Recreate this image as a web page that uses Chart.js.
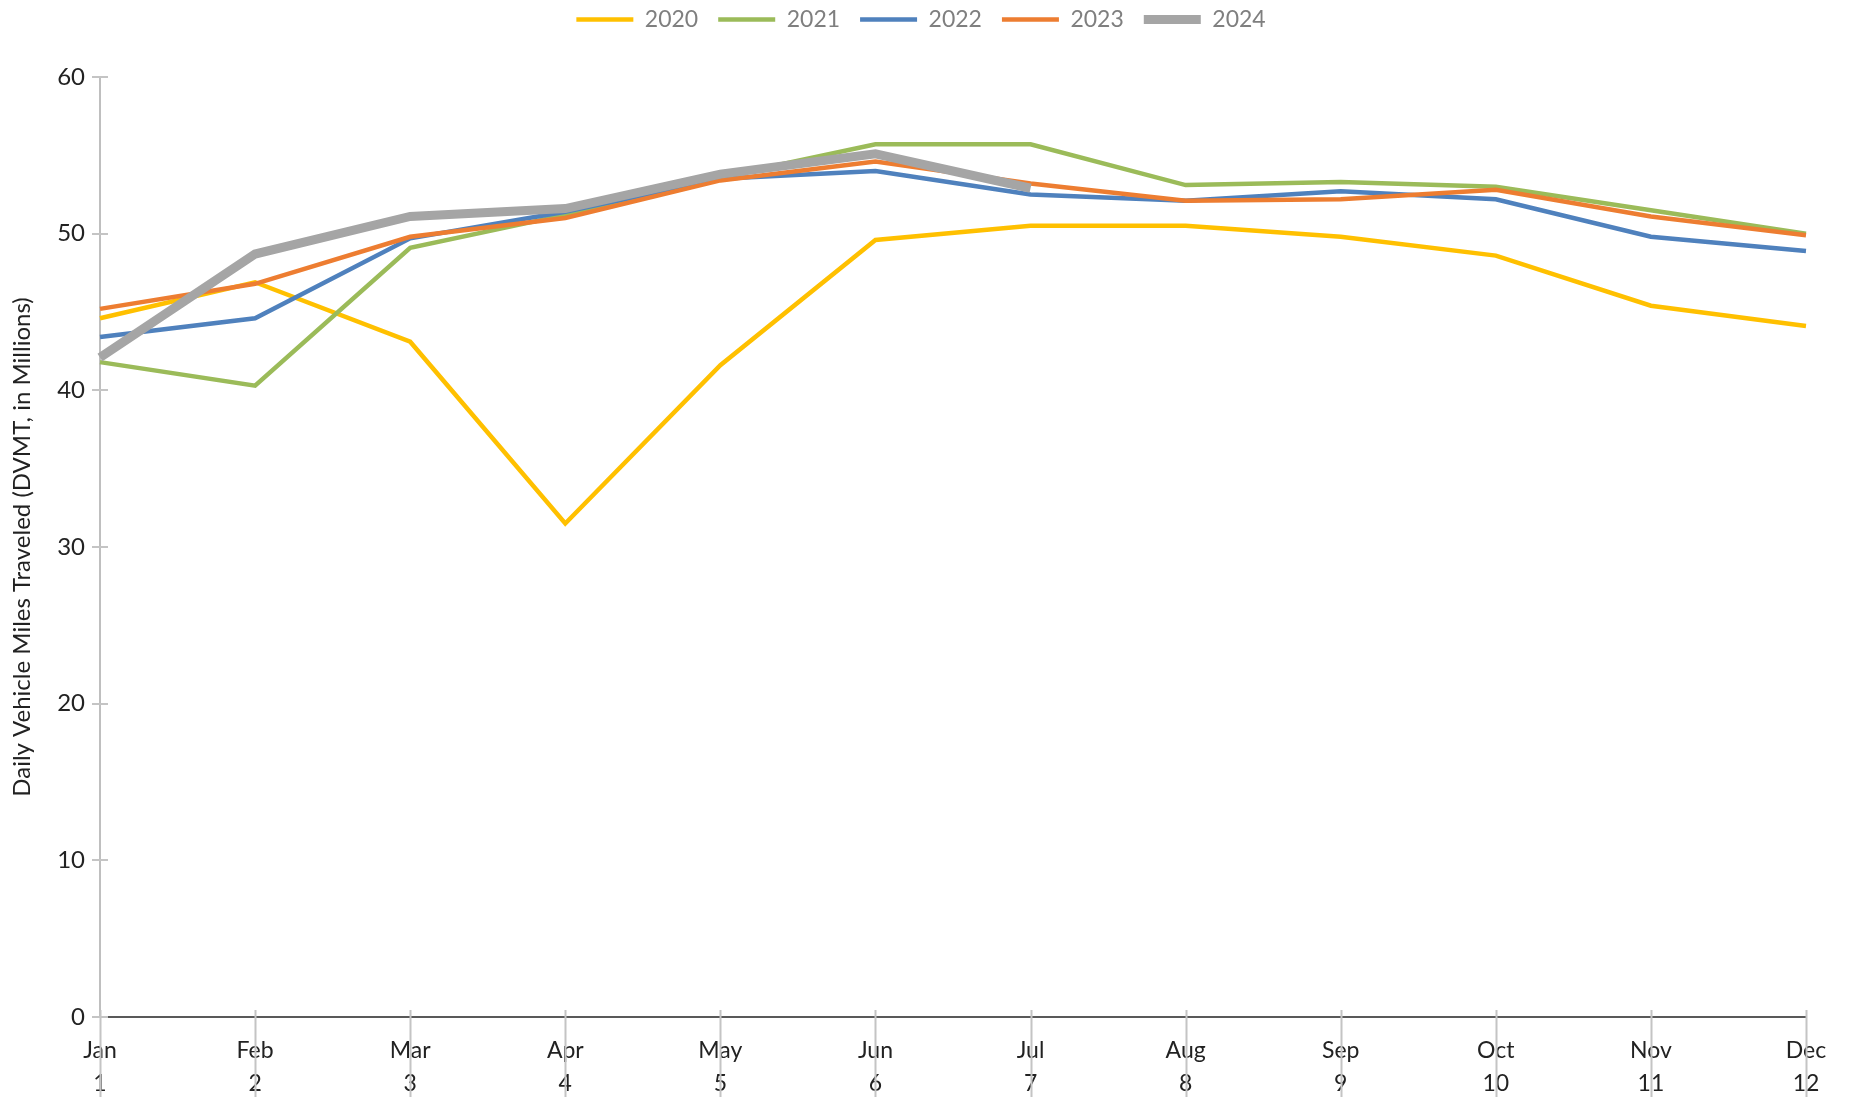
<!DOCTYPE html>
<html>
<head>
<meta charset="utf-8">
<script src="https://cdn.jsdelivr.net/npm/chart.js@4.4.1/dist/chart.umd.min.js"></script>
<style>
html,body{margin:0;padding:0;background:#fff;}
#wrap{width:1854px;height:1097px;position:relative;}
</style>
</head>
<body>
<div id="wrap"><canvas id="c" width="1854" height="1097"></canvas></div>
<script>
const months = ['Jan','Feb','Mar','Apr','May','Jun','Jul','Aug','Sep','Oct','Nov','Dec'];
const monthNums = ['1','2','3','4','5','6','7','8','9','10','11','12'];
const seriesNames = ['2020','2021','2022','2023','2024'];
const v2020 = [44.6, 46.9, 43.1, 31.5, 41.6, 49.6, 50.5, 50.5, 49.8, 48.6, 45.4, 44.1];
const v2021 = [41.8, 40.3, 49.1, 51.2, 53.6, 55.7, 55.7, 53.1, 53.3, 53.0, 51.5, 50.0];
const v2022 = [43.4, 44.6, 49.7, 51.4, 53.5, 54.0, 52.5, 52.1, 52.7, 52.2, 49.8, 48.9];
const v2023 = [45.2, 46.8, 49.8, 51.0, 53.4, 54.6, 53.2, 52.1, 52.2, 52.8, 51.1, 49.9];
const v2024 = [42.1, 48.7, 51.1, 51.6, 53.8, 55.1, 52.9, null, null, null, null, null];
const yTicks = [0, 10, 20, 30, 40, 50, 60];

const colors = ['#FFC000', '#9BBB59', '#4F81BD', '#ED7D31', '#A5A5A5'];
const widths = [4.5, 4.5, 4.5, 4.5, 9];
const values = [v2020, v2021, v2022, v2023, v2024];

const labels = months.map((m, i) => [m, monthNums[i]]);

const FONT = 'Lato, "Open Sans", sans-serif';

const crossTicks = {
  id: 'crossTicks',
  afterDraw(chart) {
    const ctx = chart.ctx;
    const xs = chart.scales.x, ys = chart.scales.y;
    const ca = chart.chartArea;
    ctx.save();
    ctx.strokeStyle = '#c4c4c4';
    ctx.lineWidth = 2;
    ctx.beginPath();
    for (let i = 0; i < xs.ticks.length; i++) {
      const x = Math.round(xs.getPixelForTick(i)) + 0.5;
      ctx.moveTo(x, ca.bottom - 7);
      ctx.lineTo(x, chart.height);
    }
    for (let i = 0; i < ys.ticks.length; i++) {
      const y = Math.round(ys.getPixelForTick(i));
      ctx.moveTo(ca.left - 8, y);
      ctx.lineTo(ca.left + 8, y);
    }
    ctx.stroke();
    ctx.restore();
  }
};

// Extra space below the legend and a small horizontal shift of the legend block
const legendSpace = {
  id: 'legendSpace',
  beforeLayout(chart) {
    const lg = chart.legend;
    if (lg && !lg._patched) {
      const f = lg.fit.bind(lg);
      lg.fit = function () { f(); this.height += 36; };
      lg._patched = true;
    }
  },
  afterLayout(chart) {
    const lg = chart.legend;
    if (lg) { lg.left += 36; }
  }
};

new Chart(document.getElementById('c'), {
  type: 'line',
  data: {
    labels: labels,
    datasets: seriesNames.map((n, i) => ({
      label: n,
      data: values[i],
      borderColor: colors[i],
      backgroundColor: colors[i],
      borderWidth: widths[i],
      pointRadius: 0,
      pointHoverRadius: 0,
      tension: 0,
      fill: false,
      spanGaps: false,
      order: 5 - i
    }))
  },
  options: {
    responsive: false,
    animation: false,
    events: [],
    layout: { padding: { left: 0, right: 48, top: -12, bottom: 0 } },
    plugins: {
      tooltip: { enabled: false },
      legend: {
        display: true,
        position: 'top',
        labels: {
          font: { family: FONT, size: 23 },
          color: '#7f7f7f',
          usePointStyle: true,
          pointStyleWidth: 57,
          boxHeight: 10,
          padding: 20,
          generateLabels(chart) {
            return chart.data.datasets.map((ds, i) => ({
              text: ds.label,
              fillStyle: ds.borderColor,
              strokeStyle: ds.borderColor,
              lineWidth: ds.borderWidth,
              lineCap: 'butt',
              pointStyle: 'line',
              fontColor: '#7f7f7f',
              hidden: false,
              datasetIndex: i
            }));
          }
        }
      }
    },
    scales: {
      x: {
        type: 'category',
        offset: false,
        grid: { display: true, drawOnChartArea: false, drawTicks: false },
        border: { display: true, color: '#595959', width: 2 },
        ticks: {
          font: { family: FONT, size: 23, lineHeight: 1.45 },
          color: '#222222',
          padding: 17,
          maxRotation: 0,
          autoSkip: false
        },
        afterFit(scale) { scale.height = 80; }
      },
      y: {
        min: 0,
        max: 60,
        afterBuildTicks(scale) { scale.ticks = yTicks.map(v => ({ value: v })); },
        grid: { display: true, drawOnChartArea: false, drawTicks: false },
        border: { display: true, color: '#bfbfbf', width: 2 },
        ticks: {
          font: { family: FONT, size: 24 },
          color: '#222222',
          padding: 15
        },
        title: {
          display: true,
          text: 'Daily Vehicle Miles Traveled (DVMT, in Millions)',
          font: { family: FONT, size: 24 },
          color: '#222222',
          padding: { top: 8, bottom: 0 }
        },
        afterFit(scale) { scale.width = 100; }
      }
    }
  },
  plugins: [crossTicks, legendSpace]
});
</script>
</body>
</html>
